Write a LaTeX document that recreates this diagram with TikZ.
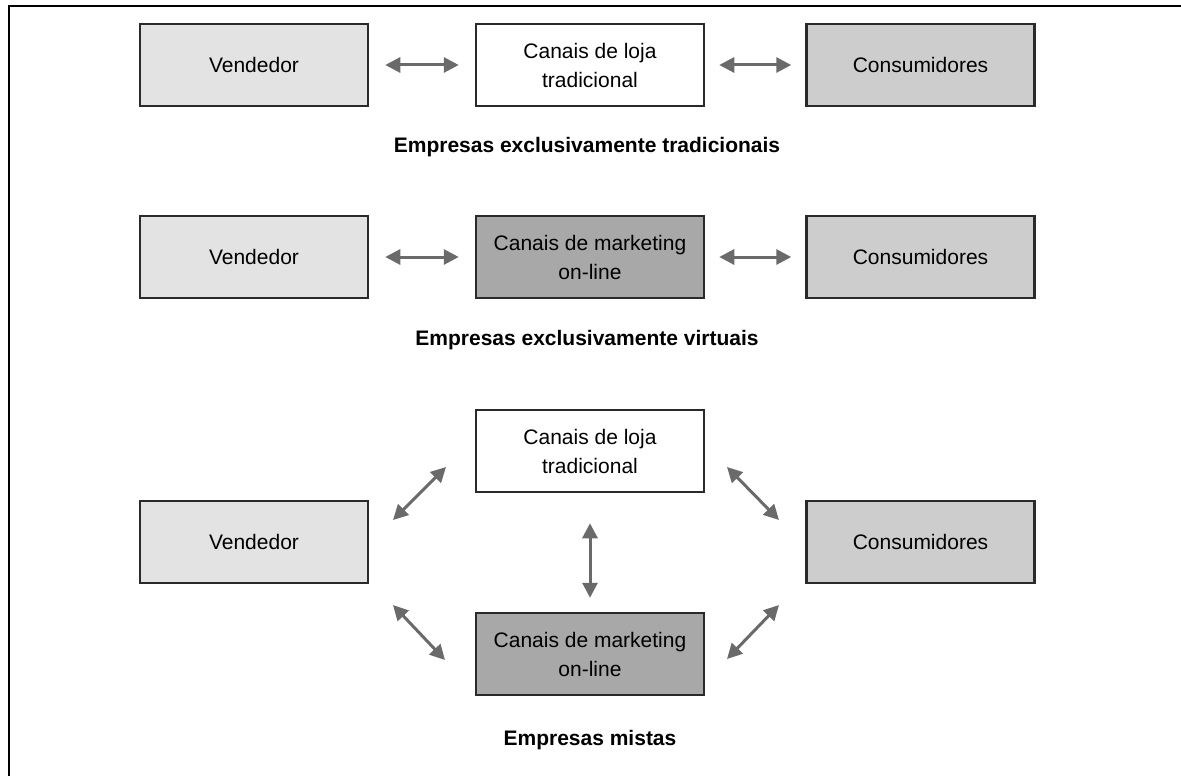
\documentclass[tikz,border=0pt]{standalone}
\usepackage{fontspec}
\setmainfont{Liberation Sans}
\usetikzlibrary{arrows.meta,calc}
\definecolor{boxline}{HTML}{2A2A2A}
\definecolor{arrowgray}{HTML}{6A6A6A}
\definecolor{lightfill}{HTML}{E3E3E3}
\definecolor{midfill}{HTML}{CDCDCD}
\definecolor{darkfill}{HTML}{A8A8A8}
\begin{document}
\begin{tikzpicture}[x=1pt,y=-1pt,
  box/.style={draw=boxline, line width=2.5pt, minimum width=228pt, minimum height=82pt,
    inner sep=0pt, align=center, font=\fontsize{21}{29}\selectfont},
  seller/.style={box, fill=lightfill},
  buyer/.style={box, fill=midfill},
  store/.style={box, fill=white},
  online/.style={box, fill=darkfill},
  conn/.style={draw=arrowgray, line width=3pt,
    {Triangle[length=15pt,width=15pt]}-{Triangle[length=15pt,width=15pt]}},
  caption/.style={font=\bfseries\fontsize{21}{25}\selectfont}]
\useasboundingbox (0,0) rectangle (1181,776);
\draw[line width=2pt] (9,776) -- (9,6) -- (1181,6);

% Row 1
\node[seller] (v1) at (254,65) {Vendedor};
\node[store]  (c1) at (590,65) {Canais de loja\\tradicional};
\node[buyer]  (k1) at (920.5,65) {Consumidores};
\draw[conn, shorten <=16pt, shorten >=16pt] (v1) -- (c1);
\draw[conn, shorten <=14pt, shorten >=14pt] (c1) -- (k1);
\node[caption] (t1) at (587,147) {Empresas exclusivamente tradicionais};

% Row 2
\node[seller] (v2) at (254,257) {Vendedor};
\node[online] (m2) at (590,257) {Canais de marketing\\on-line};
\node[buyer]  (k2) at (920.5,257) {Consumidores};
\draw[conn, shorten <=16pt, shorten >=16pt] (v2) -- (m2);
\draw[conn, shorten <=14pt, shorten >=14pt] (m2) -- (k2);
\node[caption] (t2) at (587,340) {Empresas exclusivamente virtuais};

% Row 3
\node[store]  (c3) at (590,451) {Canais de loja\\tradicional};
\node[seller] (v3) at (254,542) {Vendedor};
\node[buyer]  (k3) at (920.5,542) {Consumidores};
\node[online] (m3) at (590,654) {Canais de marketing\\on-line};
\node[caption] (t3) at (590,740) {Empresas mistas};

\coordinate (ul1) at (393,520);
\coordinate (ul2) at (446,467);
\coordinate (ur1) at (727,467);
\coordinate (ur2) at (779,520);
\coordinate (ll1) at (393,605);
\coordinate (ll2) at (445,660);
\coordinate (lr1) at (727,659);
\coordinate (lr2) at (779,605);
\draw[conn] (ul1) -- (ul2);
\draw[conn] (ur1) -- (ur2);
\draw[conn] (ll1) -- (ll2);
\draw[conn] (lr1) -- (lr2);
\draw[conn, shorten <=30pt, shorten >=14pt] (c3) -- (m3);
\end{tikzpicture}
\end{document}
